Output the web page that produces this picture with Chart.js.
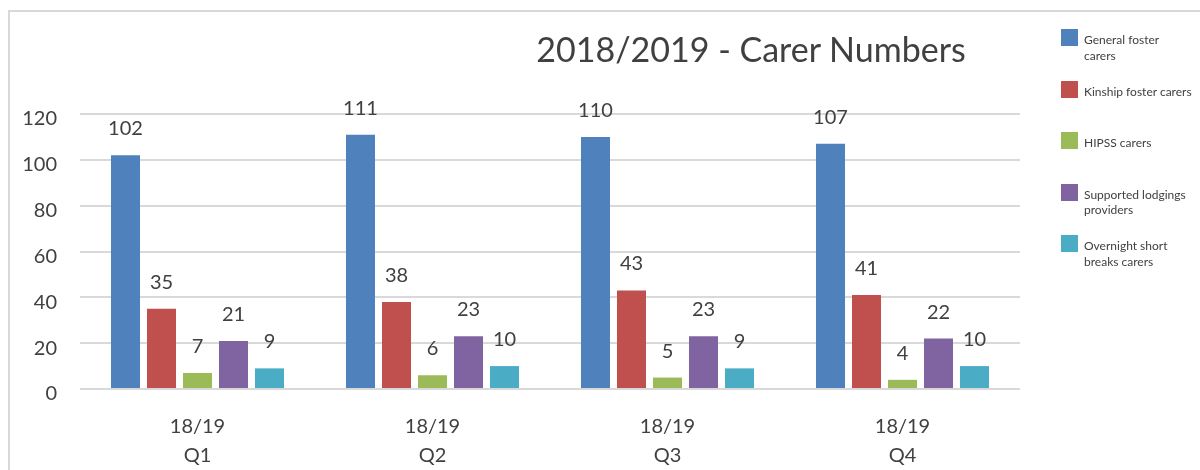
<!DOCTYPE html>
<html lang="en">
<head>
  <meta charset="UTF-8" />
  <title>2018/2019 - Carer Numbers</title>
  <script src="https://cdn.jsdelivr.net/npm/chart.js"></script>
  <style>
    body { margin: 0; background: #fff; font-family: Lato, "Open Sans", sans-serif; color: #404040; }
    #wrap { position: relative; width: 1200px; height: 470px; overflow: hidden; }
    #frame { position: absolute; left: 8px; top: 10px; width: 1300px; height: 600px;
             border-left: 2px solid #d9d9d9; border-top: 2px solid #d9d9d9; }
    #title { position: absolute; left: 451px; top: 32px; width: 600px; text-align: center;
             font-size: 34px; line-height: 34px; white-space: nowrap; }
    #chart { position: absolute; left: 0; top: 0; }
    #legend { position: absolute; left: 1061px; top: 32px; }
    .item { display: flex; align-items: flex-start; height: 51.5px; }
    .swatch { width: 17px; height: 17px; margin-top: -3px; flex: none; }
    .label { margin-left: 6px; font-size: 12px; line-height: 15.5px; white-space: nowrap; }
  </style>
</head>
<body>
<div id="wrap">
  <div id="frame"></div>
  <canvas id="chart" width="1200" height="470"></canvas>
  <div id="title">2018/2019 - Carer Numbers</div>
  <div id="legend"></div>
</div>

<script>
  // datos
  const categories = [['18/19', 'Q1'], ['18/19', 'Q2'], ['18/19', 'Q3'], ['18/19', 'Q4']];
  const seriesNames = ['General foster carers', 'Kinship foster carers', 'HIPSS carers',
                       'Supported lodgings providers', 'Overnight short breaks carers'];
  const legendLines = [['General foster', 'carers'], ['Kinship foster carers'], ['HIPSS carers'],
                       ['Supported lodgings', 'providers'], ['Overnight short', 'breaks carers']];
  const generalFoster = [102, 111, 110, 107];
  const kinshipFoster = [35, 38, 43, 41];
  const hipssCarers = [7, 6, 5, 4];
  const supportedLodgings = [21, 23, 23, 22];
  const overnightBreaks = [9, 10, 9, 10];
  const yTicks = [0, 20, 40, 60, 80, 100, 120];
  const colors = ['#4f81bd', '#c0504d', '#9bbb59', '#8064a2', '#4bacc6'];

  const seriesValues = [generalFoster, kinshipFoster, hipssCarers, supportedLodgings, overnightBreaks];
  const textColor = '#404040';
  const fontFamily = 'Lato, "Open Sans", sans-serif';

  // etiquetas de valor encima de cada barra
  const valueLabels = {
    id: 'valueLabels',
    afterDatasetsDraw(chart) {
      const ctx = chart.ctx;
      ctx.save();
      ctx.font = '20px ' + fontFamily;
      ctx.fillStyle = textColor;
      ctx.textAlign = 'center';
      ctx.textBaseline = 'alphabetic';
      chart.data.datasets.forEach((ds, i) => {
        chart.getDatasetMeta(i).data.forEach((bar, j) => {
          ctx.fillText(String(ds.data[j]), bar.x, bar.y - 20);
        });
      });
      ctx.restore();
    }
  };

  new Chart(document.getElementById('chart'), {
    type: 'bar',
    data: {
      labels: categories,
      datasets: seriesNames.map((name, i) => ({
        label: name,
        data: seriesValues[i],
        backgroundColor: colors[i],
        borderWidth: 0,
        categoryPercentage: 0.766,
        barPercentage: 0.806
      }))
    },
    options: {
      responsive: false,
      animation: false,
      devicePixelRatio: 1,
      layout: { padding: { top: 114, right: 180, bottom: 0, left: 0 } },
      plugins: {
        legend: { display: false },
        title: { display: false },
        tooltip: { enabled: false }
      },
      scales: {
        x: {
          grid: { display: false },
          border: { display: false },
          ticks: { color: textColor, font: { family: fontFamily, size: 20, lineHeight: 1.45 }, padding: 15, maxRotation: 0 },
          afterFit: s => { s.height = 81; }
        },
        y: {
          min: 0,
          max: 120,
          afterBuildTicks: s => { s.ticks = yTicks.map(v => ({ value: v })); },
          grid: { color: '#d9d9d9', lineWidth: 2, drawTicks: false },
          border: { display: false },
          ticks: { color: textColor, font: { family: fontFamily, size: 20 }, padding: 23, labelOffset: 5 },
          afterFit: s => { s.width = 80; }
        }
      }
    },
    plugins: [valueLabels]
  });

  // leyenda a la derecha
  const legend = document.getElementById('legend');
  legendLines.forEach((lines, i) => {
    const item = document.createElement('div');
    item.className = 'item';
    item.innerHTML = `<div class="swatch" style="background:${colors[i]}"></div>` +
                     `<div class="label">${lines.join('<br>')}</div>`;
    legend.appendChild(item);
  });
</script>
</body>
</html>
